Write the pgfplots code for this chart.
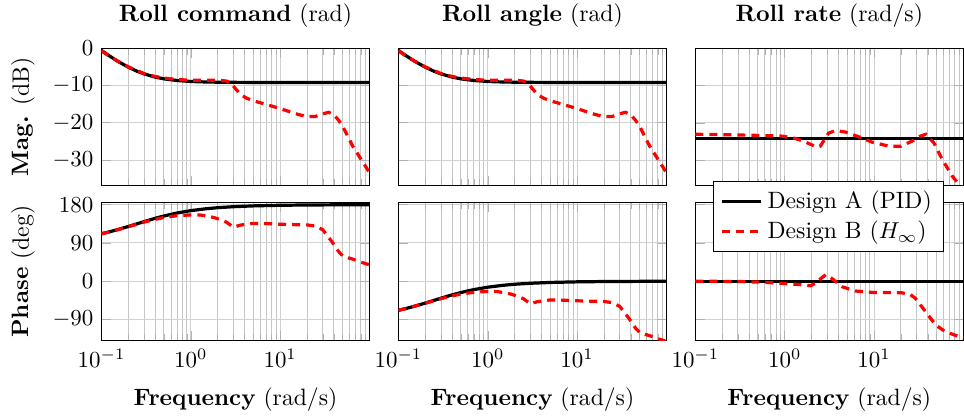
\documentclass[border=0pt]{standalone}
\usepackage{pgfplots}
\pgfplotsset{compat=1.18}
\usepgfplotslibrary{groupplots}
\begin{document}
\begin{tikzpicture}
\pgfplotsset{
  every axis/.append style={
    xmode=log, log basis x=10, xmin=0.1, xmax=100, xtick={0.1,1,10},
    minor xtick={0.2,0.3,0.4,0.5,0.6,0.7,0.8,0.9,2,3,4,5,6,7,8,9,20,30,40,50,60,70,80,90},
    scale only axis, width=116.7pt,
    xmajorgrids=true, xminorgrids=true, ymajorgrids=true,
    major grid style={line width=0.4pt, gray!35},
    minor grid style={line width=0.4pt, gray!45},
    tick style={gray!60},
    axis line style={black, line width=0.6pt},
    title style={at={(axis description cs:0.5,1)}, anchor=base, yshift=5.8pt, font=\fontsize{10.3}{12.4}\selectfont},
    xlabel style={at={(axis description cs:0.5,0)}, anchor=base, yshift=-28pt, font=\fontsize{10.3}{12.4}\selectfont},
    ylabel style={at={(axis description cs:0,0.5)}, anchor=center, font=\fontsize{10.3}{12.4}\selectfont},
  },
  desA/.style={black, line width=1.4pt},
  desB/.style={red, line width=1.4pt, dash pattern=on 3.5pt off 2.6pt},
  magrow/.style={height=59.7pt, ymin=-36.8, ymax=0, ytick={0,-10,-20,-30}, xticklabels={}},
  phrow/.style={height=60.2pt, ymin=-140, ymax=185, ytick={-90,0,90,180}, xlabel={\textbf{Frequency} (rad/s)}},
}
\begin{groupplot}[group style={group size=3 by 2, horizontal sep=12.6pt, vertical sep=7.5pt}]
% ---------- row 1: magnitude ----------
\nextgroupplot[magrow, title={\textbf{Roll command} (rad)}, ylabel={\textbf{Mag.} (dB)}, ylabel style={yshift=34.2pt}]
\addplot[desA] coordinates {(0.1,-0.59)(0.12,-1.91)(0.15,-3.42)(0.2,-5.10)(0.25,-6.18)(0.3,-6.90)(0.4,-7.76)(0.5,-8.22)(0.7,-8.67)(1,-8.93)(1.5,-9.07)(2,-9.12)(3,-9.16)(5,-9.18)(10,-9.19)(100,-9.19)};
\addplot[desB] coordinates {(0.1,-0.7)(0.12,-2.0)(0.15,-3.4)(0.2,-5.0)(0.25,-6.0)(0.3,-6.8)(0.4,-7.6)(0.5,-8.0)(0.7,-8.4)(1,-8.6)(1.5,-8.6)(2,-8.6)(2.5,-8.8)(2.8,-9.3)(3.2,-11)(3.6,-12.4)(4.2,-13.4)(5,-14.1)(7,-15.1)(10,-16.2)(15,-17.6)(20,-18.4)(25,-18.3)(30,-17.6)(35,-17.2)(40,-17.9)(45,-19.3)(50,-20.9)(65,-26.3)(85,-30.7)(100,-33.4)};
\nextgroupplot[magrow, title={\textbf{Roll angle} (rad)}, yticklabels={}]
\addplot[desA] coordinates {(0.1,-0.59)(0.12,-1.91)(0.15,-3.42)(0.2,-5.10)(0.25,-6.18)(0.3,-6.90)(0.4,-7.76)(0.5,-8.22)(0.7,-8.67)(1,-8.93)(1.5,-9.07)(2,-9.12)(3,-9.16)(5,-9.18)(10,-9.19)(100,-9.19)};
\addplot[desB] coordinates {(0.1,-0.7)(0.12,-2.0)(0.15,-3.4)(0.2,-5.0)(0.25,-6.0)(0.3,-6.8)(0.4,-7.6)(0.5,-8.0)(0.7,-8.4)(1,-8.6)(1.5,-8.6)(2,-8.6)(2.5,-8.8)(2.8,-9.3)(3.2,-11)(3.6,-12.4)(4.2,-13.4)(5,-14.1)(7,-15.1)(10,-16.2)(15,-17.6)(20,-18.4)(25,-18.3)(30,-17.6)(35,-17.2)(40,-17.9)(45,-19.3)(50,-20.9)(65,-26.3)(85,-30.7)(100,-33.4)};
\nextgroupplot[magrow, title={\textbf{Roll rate} (rad/s)}, yticklabels={}]
\addplot[desA] coordinates {(0.1,-24.3)(100,-24.3)};
\addplot[desB] coordinates {(0.1,-23.1)(0.2,-23.2)(0.5,-23.4)(0.94,-23.6)(1.3,-24.2)(1.6,-24.9)(2.0,-25.9)(2.25,-26.5)(2.5,-26.3)(2.8,-24.5)(3.1,-22.8)(3.7,-22.1)(4.8,-22.5)(6.8,-23.8)(9.5,-25.2)(14.7,-26.3)(20,-26.3)(26.8,-24.9)(33,-23.6)(38,-23.1)(46.8,-25.4)(58,-29.8)(75,-34.3)(89,-36.5)(100,-38)};
% ---------- row 2: phase ----------
\nextgroupplot[phrow, ylabel={\textbf{Phase} (deg)}, ylabel style={yshift=34.2pt}]
\addplot[desA] coordinates {(0.1,111.8)(0.12,115.6)(0.15,121.0)(0.2,128.7)(0.25,135)(0.3,140.2)(0.4,148.0)(0.5,153.4)(0.7,160.35)(1,166.0)(1.5,170.54)(2,172.9)(3,175.24)(5,177.14)(10,178.57)(20,179.28)(50,179.71)(100,179.86)};
\addplot[desB] coordinates {(0.1,111.5)(0.12,115.5)(0.15,121)(0.2,128.5)(0.25,134)(0.3,139)(0.4,145.5)(0.5,150)(0.7,154)(1,156)(1.3,155.5)(1.8,150)(2.2,144)(2.5,139)(3,127)(3.6,132)(5,136)(7,135.5)(10,134)(15,133)(20,132.5)(25,129.5)(30,121)(34,106)(38,93)(45,70)(50,60)(58,55)(65,52)(80,45)(100,38.5)};
\nextgroupplot[phrow, yticklabels={}]
\addplot[desA] coordinates {(0.1,-68.2)(0.12,-64.4)(0.15,-59.0)(0.2,-51.3)(0.25,-45)(0.3,-39.8)(0.4,-32.0)(0.5,-26.6)(0.7,-19.65)(1,-14.0)(1.5,-9.46)(2,-7.1)(3,-4.76)(5,-2.86)(10,-1.43)(20,-0.72)(50,-0.29)(100,-0.14)};
\addplot[desB] coordinates {(0.1,-68.5)(0.12,-64.5)(0.15,-59)(0.2,-51.5)(0.25,-46)(0.3,-41)(0.4,-34.5)(0.5,-30)(0.7,-26)(1,-24)(1.3,-24.5)(1.8,-30)(2.2,-36)(2.5,-41)(3,-53)(3.6,-48)(5,-44)(7,-44.5)(10,-46)(15,-47)(20,-47.5)(25,-50.5)(30,-59)(34,-74)(38,-87)(45,-110)(50,-120)(58,-125)(65,-128)(80,-135)(100,-141.5)};
\nextgroupplot[phrow, yticklabels={},
  legend style={at={(0.067,1.156)}, anchor=north west, draw=black, fill=white, legend cell align=left, font=\fontsize{10.3}{12.4}\selectfont}]
\addplot[desA] coordinates {(0.1,0)(100,0)};
\addlegendentry{Design A (PID)}
\addplot[desB] coordinates {(0.1,0)(0.3,-0.5)(0.6,-2.5)(0.94,-5)(1.5,-8)(1.95,-10.5)(2.2,-5)(2.6,8)(2.9,15.5)(3.4,6)(4.4,-13)(6.2,-23)(10,-26.5)(20,-27)(25,-30)(29,-40)(38,-72)(49,-103)(63,-118.6)(89,-130)(100,-133)};
\addlegendentry{Design B ($H_\infty$)}
\end{groupplot}
\pgfresetboundingbox
\path[use as bounding box] ([shift={(-44.2pt,21pt)}]group c1r1.north west) rectangle ([shift={(0.3pt,-33.2pt)}]group c3r2.south east);
\end{tikzpicture}
\end{document}
